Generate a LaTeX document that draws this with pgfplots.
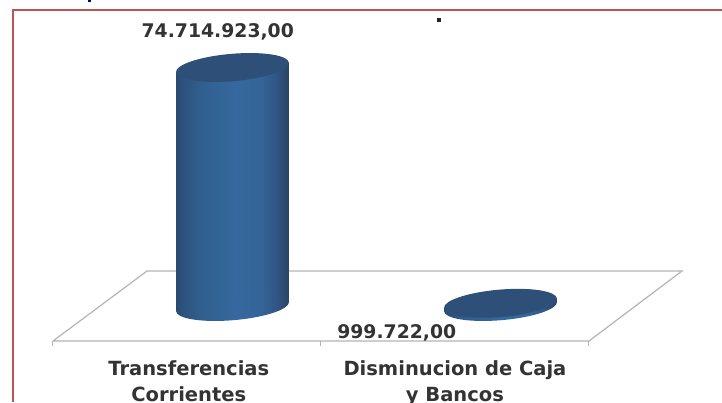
\documentclass[border=0pt]{standalone}
\usepackage{fontspec}
\setmainfont{DejaVu Sans}
\usepackage{pgfplots}
\pgfplotsset{compat=1.18}
\usetikzlibrary{shapes.geometric}

\definecolor{frame}{HTML}{B8555B}
\definecolor{floorline}{HTML}{B4B4B4}
\definecolor{captop}{HTML}{2E5078}
\definecolor{labeltxt}{HTML}{333333}

\pgfplotstableread{
x value
0 74714923
1 999722
}\bars
\pgfplotstableread{
x value
0 0
1 0
}\bases

% cylinder gradient, the path's width maps to 25bp..75bp
\pgfdeclarehorizontalshading{cyl}{100bp}{
    rgb(0bp)=(0.165,0.29,0.44);
    rgb(25bp)=(0.165,0.29,0.44);
    rgb(28bp)=(0.18,0.32,0.49);
    rgb(36bp)=(0.19,0.375,0.56);
    rgb(52bp)=(0.21,0.41,0.62);
    rgb(62bp)=(0.205,0.395,0.60);
    rgb(69bp)=(0.19,0.34,0.52);
    rgb(75bp)=(0.165,0.265,0.39);
    rgb(100bp)=(0.165,0.265,0.39)}
\tikzset{cylfill/.style={shade,shading=cyl}}

\begin{document}
\begin{tikzpicture}[x=1pt,y=1pt]
\path[use as bounding box,clip] (0,0) rectangle (722,402);
\fill[blue!60!black] (88,399.5) rectangle (91,402);
\draw[frame,line width=1.5pt] (13,0) -- (13,392) -- (722,392);
\fill[black!85] (437,380) rectangle (440.5,383.5);
\begin{axis}[
    at={(0pt,61pt)}, anchor=south west,
    scale only axis, width=722pt, height=341pt,
    xmin=-0.8675, xmax=1.8265,
    ymin=-10785000, ymax=95816650,
    axis x line*=bottom, axis y line=none,
    clip=false,
    x axis line style={draw=none},
    xtick={-0.6698,0.3302,1.3302}, xticklabels={},
    major tick length=5pt, tick align=outside,
    tick style={floorline,line width=1pt},
    extra x ticks={-0.163,0.83},
    extra x tick labels={Transferencias\\Corrientes,Disminucion de Caja\\y Bancos},
    extra x tick style={major tick length=0pt,
        tick label style={align=center,font=\bfseries\fontsize{19.5}{26}\selectfont,text=labeltxt,yshift=-16.5pt}},
]
% floor of the 3d plane
\addplot[floorline,line width=1.2pt,no markers] coordinates {
    (-0.6698,-10785000) (-0.319,11098000) (1.6772,11098000) (1.3302,-10785000) (-0.6698,-10785000)
};
% bottom caps
\addplot[only marks,mark=none,nodes near coords={},
    every node near coord/.style={ellipse,anchor=center,inner sep=0pt,
        minimum width=113.4pt,minimum height=27.4pt,rotate=4.8,cylfill}]
    table[x=x,y=value] {\bases};
% cylinder bodies, ends follow the tilt of the caps
\addplot[draw=none,cylfill] coordinates {
    (-0.2108,-1406770) (-0.2108,73308153) (0.2108,76121693) (0.2108,1406770)
} -- cycle;
\addplot[draw=none,cylfill] coordinates {
    (0.7892,-1406770) (0.7892,-407048) (1.2108,2406492) (1.2108,1406770)
} -- cycle;
% top caps
\addplot[only marks,mark=none,nodes near coords={},
    every node near coord/.style={ellipse,anchor=center,inner sep=0pt,
        minimum width=113.4pt,minimum height=27.4pt,rotate=4.8,fill=captop}]
    table[x=x,y=value] {\bars};
% value labels
\node[font=\bfseries\fontsize{18.8}{22}\selectfont,text=labeltxt] at (axis cs:-0.055,85860000) {74.714.923,00};
\node[font=\bfseries\fontsize{18.8}{22}\selectfont,text=labeltxt] at (axis cs:0.613,-8300000) {999.722,00};
\end{axis}
\end{tikzpicture}
\end{document}
